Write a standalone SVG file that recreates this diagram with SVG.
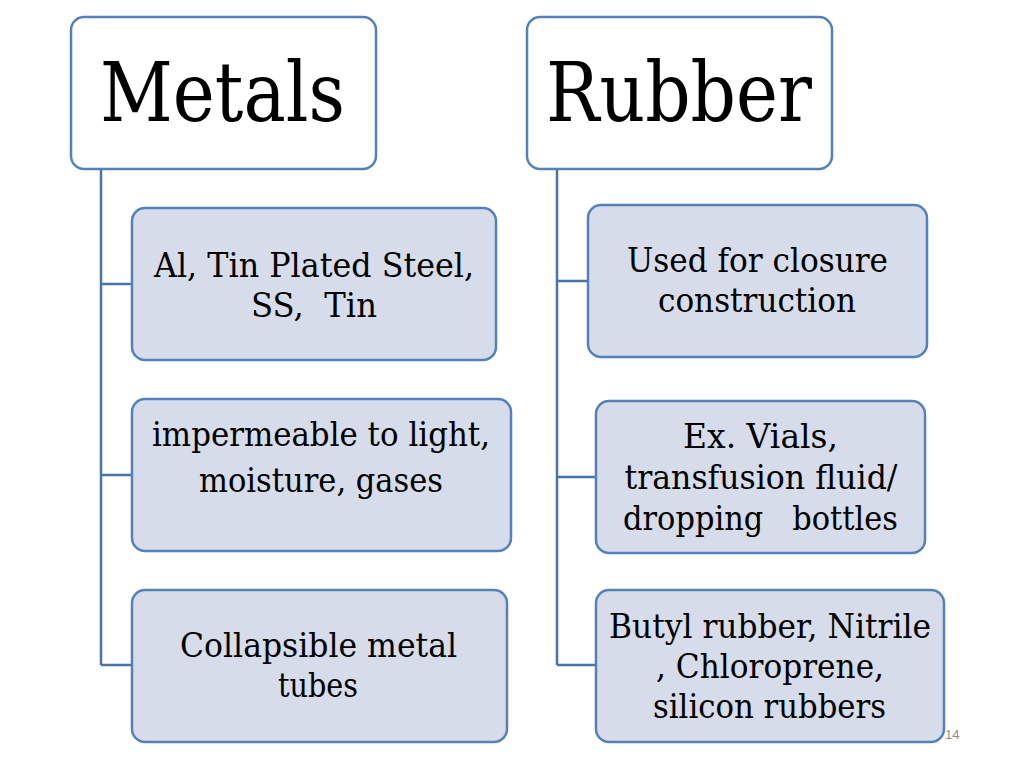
<svg xmlns="http://www.w3.org/2000/svg" width="1024" height="768" viewBox="0 0 1024 768">
<style>
.head{fill:#ffffff;stroke:#5680b8;stroke-width:2.5}
.child{fill:#d6dce9;stroke:#5680b8;stroke-width:2.5}
.ht{font-family:'DejaVu Serif','Liberation Serif',serif;font-size:82px;fill:#000;text-anchor:middle}
.ct{font-family:'DejaVu Serif','Liberation Serif',serif;font-size:34px;fill:#000;text-anchor:middle}
.conn{fill:none;stroke:#4a74a8;stroke-width:2.5}
</style>
<rect width="1024" height="768" fill="#ffffff"/>
<g id="connectors">
<path class="conn" d="M101 169 V665 M101 284 H132 M101 475 H132 M101 665 H132"/>
<path class="conn" d="M557 169 V665 M557 281 H588 M557 477 H596 M557 665 H596"/>
</g>
<g id="metals">
<rect class="head" x="71" y="17" width="305" height="152" rx="13"/>
<text class="ht" x="222.5" y="121" textLength="245" lengthAdjust="spacingAndGlyphs">Metals</text>
</g>
<g id="rubber">
<rect class="head" x="527" y="17" width="305" height="152" rx="13"/>
<text class="ht" x="679" y="121" textLength="266" lengthAdjust="spacingAndGlyphs">Rubber</text>
</g>
<g id="m1">
<rect class="child" x="132" y="208" width="364" height="152" rx="13"/>
<text class="ct" x="314" y="277" textLength="320" lengthAdjust="spacingAndGlyphs">Al, Tin Plated Steel,</text>
<text class="ct" x="314" y="317" xml:space="preserve" textLength="126" lengthAdjust="spacingAndGlyphs">SS,  Tin</text>
</g>
<g id="m2">
<rect class="child" x="132" y="399" width="379" height="152" rx="13"/>
<text class="ct" x="321" y="446" textLength="338" lengthAdjust="spacingAndGlyphs">impermeable to light,</text>
<text class="ct" x="321" y="492" textLength="244" lengthAdjust="spacingAndGlyphs">moisture, gases</text>
</g>
<g id="m3">
<rect class="child" x="132" y="590" width="375" height="152" rx="13"/>
<text class="ct" x="318.5" y="657" textLength="277" lengthAdjust="spacingAndGlyphs">Collapsible metal</text>
<text class="ct" x="318" y="697" textLength="80" lengthAdjust="spacingAndGlyphs">tubes</text>
</g>
<g id="r1">
<rect class="child" x="588" y="205" width="339" height="152" rx="13"/>
<text class="ct" x="757.5" y="272" textLength="261" lengthAdjust="spacingAndGlyphs">Used for closure</text>
<text class="ct" x="757" y="312" textLength="198" lengthAdjust="spacingAndGlyphs">construction</text>
</g>
<g id="r2">
<rect class="child" x="596" y="401" width="329" height="152" rx="13"/>
<text class="ct" x="760.5" y="448" textLength="155" lengthAdjust="spacingAndGlyphs">Ex. Vials,</text>
<text class="ct" x="761" y="489" textLength="273" lengthAdjust="spacingAndGlyphs">transfusion fluid/</text>
<text class="ct" x="760.5" y="530" xml:space="preserve" textLength="275" lengthAdjust="spacingAndGlyphs">dropping   bottles</text>
</g>
<g id="r3">
<rect class="child" x="596" y="590" width="348" height="152" rx="13"/>
<text class="ct" x="770" y="638" textLength="322" lengthAdjust="spacingAndGlyphs">Butyl rubber, Nitrile</text>
<text class="ct" x="770" y="678" textLength="228" lengthAdjust="spacingAndGlyphs">, Chloroprene,</text>
<text class="ct" x="769.5" y="718" textLength="233" lengthAdjust="spacingAndGlyphs">silicon rubbers</text>
</g>
<text x="945" y="739" font-family="'Liberation Sans',sans-serif" font-size="13" fill="#8c8c8c">14</text>
</svg>
